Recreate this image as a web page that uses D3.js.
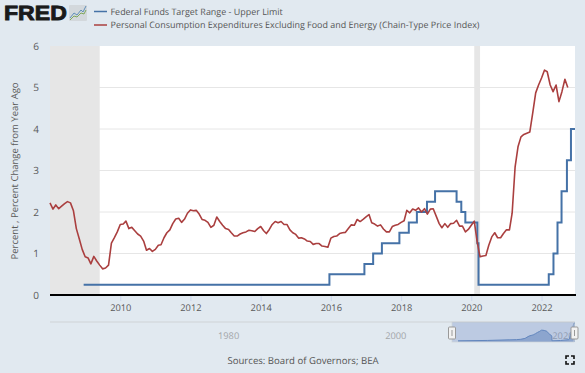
<!DOCTYPE html>
<html><head><meta charset="utf-8">
<style>html,body{margin:0;padding:0;background:#e1e9f0;overflow:hidden}svg{display:block;text-rendering:geometricPrecision}text{font-family:"Open Sans",sans-serif}</style>
<script src="https://cdn.jsdelivr.net/npm/d3@7"></script></head><body>
<svg id="c" width="585" height="373"></svg>
<script>
const pceStart = "2008-01-01";
const pceValues = [
2.22,2.07,2.17,2.08,2.14,2.20,2.25,2.22,2.03,1.60,1.35,1.10,
0.92,0.89,0.75,0.93,0.82,0.72,0.63,0.65,0.72,1.25,1.38,1.52,
1.70,1.71,1.78,1.60,1.63,1.55,1.47,1.42,1.30,1.08,1.12,1.05,
1.10,1.20,1.21,1.38,1.50,1.57,1.72,1.83,1.85,1.75,1.83,1.97,
2.05,2.03,2.04,1.95,1.82,1.80,1.75,1.63,1.68,1.88,1.77,1.68,
1.60,1.58,1.50,1.42,1.42,1.47,1.50,1.52,1.56,1.55,1.53,1.60,
1.65,1.55,1.48,1.58,1.70,1.77,1.74,1.77,1.70,1.70,1.57,1.50,
1.46,1.37,1.38,1.35,1.30,1.29,1.22,1.24,1.24,1.18,1.17,1.15,
1.37,1.41,1.42,1.48,1.50,1.51,1.60,1.69,1.68,1.82,1.77,1.82,
1.88,1.94,1.74,1.71,1.66,1.69,1.59,1.52,1.52,1.65,1.68,1.70,
1.75,1.79,2.04,1.98,2.07,2.04,2.10,2.00,2.08,1.95,2.07,2.08,
1.90,1.72,1.62,1.72,1.63,1.72,1.73,1.80,1.66,1.66,1.52,1.58,
1.68,1.78,1.30,0.92,0.94,0.95,1.20,1.40,1.50,1.38,1.38,1.48,
1.57,1.57,1.97,3.09,3.57,3.81,3.87,3.90,3.93,4.38,4.87,5.06,
5.23,5.42,5.38,5.06,4.90,5.06,4.66,4.90,5.20,5.00];
const fedDates = ["2008-12-16","2015-12-17","2016-12-15","2017-03-16","2017-06-15","2017-12-14","2018-03-22","2018-06-14","2018-09-27","2018-12-20","2019-08-01","2019-09-19","2019-10-31","2020-03-04","2020-03-16","2022-03-17","2022-05-05","2022-06-16","2022-07-28","2022-09-22","2022-11-03","2022-12-15"];
const fedValues = [0.25,0.5,0.75,1,1.25,1.5,1.75,2,2.25,2.5,2.25,2,1.75,1.25,0.25,0.5,1,1.75,2.5,3.25,4,4];
const recessions = [["2008-01-01","2009-06-01"],["2020-02-01","2020-04-01"]];
const yTicks = [0,1,2,3,4,5,6];
const xTickYears = [2010,2012,2014,2016,2018,2020,2022];
const navYears = [1980,2000,2020];
const seriesNames = ["Federal Funds Target Range - Upper Limit","Personal Consumption Expenditures Excluding Food and Energy (Chain-Type Price Index)"];
const seriesColors = ["#4572a7","#aa3f3f"];

const parse = d3.utcParse("%Y-%m-%d");
const svg = d3.select("#c");
const L=50,R=575,T=46,B=295;
const x = d3.scaleUtc().domain([parse("2008-01-01"),parse("2022-12-15")]).range([L,R]);
const y = d3.scaleLinear().domain([0,6]).range([B,T]);
const pce = pceValues.map((v,i)=>({d:d3.utcMonth.offset(parse(pceStart),i),v}));
const fed = fedDates.map((s,i)=>({d:parse(s),v:fedValues[i]}));
const grey="#5a5a5a";

svg.append("rect").attr("width",585).attr("height",373).attr("fill","#e1e9f0");
svg.append("rect").attr("x",L).attr("y",T).attr("width",R-L).attr("height",B-T).attr("fill","#fff");
svg.selectAll(".band").data(recessions).join("rect")
  .attr("x",d=>x(parse(d[0]))).attr("width",d=>x(parse(d[1]))-x(parse(d[0])))
  .attr("y",T).attr("height",B-T).attr("fill","#e6e6e6");
svg.selectAll(".grid").data(yTicks.filter(t=>t>0&&t<6)).join("line")
  .attr("x1",L).attr("x2",R).attr("y1",d=>y(d)).attr("y2",d=>y(d))
  .attr("stroke","#e6e6e6").attr("stroke-width",1);

const yAxis = svg.append("g").attr("transform",`translate(${L},0)`)
  .call(d3.axisLeft(y).tickValues(yTicks).tickSize(0).tickPadding(11).tickFormat(d3.format("d")));
yAxis.select(".domain").remove();
yAxis.selectAll("text").attr("fill",grey).attr("font-size",10).style("font-family",'"Open Sans",sans-serif');

const xAxis = svg.append("g").attr("transform",`translate(0,${B})`)
  .call(d3.axisBottom(x).tickValues(xTickYears.map(t=>new Date(Date.UTC(t,0,1)))).tickSize(6).tickPadding(3).tickFormat(d3.utcFormat("%Y")));
xAxis.select(".domain").remove();
xAxis.selectAll("line").attr("stroke","#ccd6eb");
xAxis.selectAll("text").attr("fill",grey).attr("font-size",9.3).style("font-family",'"Open Sans",sans-serif');

const lp = d3.line().x(d=>x(d.d)).y(d=>y(d.v));
const ls = d3.line().x(d=>x(d.d)).y(d=>y(d.v)).curve(d3.curveStepAfter);
svg.append("path").attr("d",ls(fed)).attr("fill","none").attr("stroke",seriesColors[0]).attr("stroke-width",2);
svg.append("path").attr("d",lp(pce)).attr("fill","none").attr("stroke",seriesColors[1]).attr("stroke-width",1.6).attr("stroke-linejoin","round");
svg.append("line").attr("x1",L).attr("x2",R+1).attr("y1",B).attr("y2",B).attr("stroke","#000").attr("stroke-width",2);

svg.append("text").attr("transform",`translate(18,171) rotate(-90)`).attr("text-anchor","middle")
  .attr("font-size",9.5).attr("fill",grey).text("Percent , Percent Change from Year Ago");

// legend
seriesNames.forEach((n,i)=>{
  const ly=11.5+i*13.5;
  svg.append("line").attr("x1",94).attr("x2",107).attr("y1",ly).attr("y2",ly).attr("stroke",seriesColors[i]).attr("stroke-width",1.5);
  svg.append("text").attr("x",110.5).attr("y",ly+3.2).attr("font-size",8.95).attr("fill","#555").text(n);
});

// logo
svg.append("text").attr("transform","translate(4,20) scale(1.12,1)").attr("font-size",20.6).attr("font-weight",700)
  .style("font-family",'"Liberation Sans",sans-serif')
  .attr("fill","#1a1a1a").attr("stroke","#1a1a1a").attr("stroke-width",.9).text("FRED");
svg.append("rect").attr("x",69).attr("y",5).attr("width",18).attr("height",16).attr("rx",1).attr("fill","#d3d8dc");
svg.append("path").attr("d","M70 18 L74 13 L77 15 L81 10 L83 12 L86 6").attr("fill","none").attr("stroke","#5f8fb8").attr("stroke-width",1);
svg.append("path").attr("d","M70 20 L74 16 L77 17 L81 13 L84 14 L86 10").attr("fill","none").attr("stroke","#7fa85c").attr("stroke-width",1);

// navigator
const nx = d3.scaleUtc().domain([parse("2008-01-01"),parse("2022-12-15")]).range([450,575]);
const ny = d3.scaleLinear().domain([0,4]).range([342,323]);
svg.append("line").attr("x1",L).attr("x2",R).attr("y1",322).attr("y2",322).attr("stroke","#cfd3d6");
svg.selectAll(".ny").data(navYears).join("text")
  .attr("x",d=>nx(new Date(Date.UTC(d,0,1)))+2).attr("y",339).attr("font-size",9.3).attr("fill","#a3a6aa").text(d=>d);
svg.append("path").attr("d",d3.area().x(d=>nx(d.d)).y0(342).y1(d=>ny(d.v)).curve(d3.curveMonotoneX)(fed)).attr("fill","#6f8fc0").attr("fill-opacity",.6);
svg.append("path").attr("d",d3.line().x(d=>nx(d.d)).y(d=>ny(d.v)).curve(d3.curveMonotoneX)(fed)).attr("fill","none").attr("stroke","#5f86bb").attr("stroke-width",1);
svg.append("rect").attr("x",452).attr("y",322).attr("width",122).attr("height",20).attr("fill","#6685c2").attr("fill-opacity",.3).attr("stroke","#cfd3d6").attr("stroke-width",.7);
[452,574.5].forEach(h=>{
  svg.append("rect").attr("x",h-3.5).attr("y",327).attr("width",7).attr("height",12).attr("rx",1).attr("fill","#f2f2f2").attr("stroke","#999");
  svg.append("line").attr("x1",h).attr("x2",h).attr("y1",330).attr("y2",336).attr("stroke","#999");
});

svg.append("text").attr("x",303).attr("y",364).attr("text-anchor","middle").attr("font-size",9.6).attr("fill","#555").text("Sources: Board of Governors; BEA");
// fullscreen icon
svg.append("path").attr("d","M566 359V356H569 M571 356H574V359 M574 361V364H571 M569 364H566V361").attr("fill","none").attr("stroke","#111").attr("stroke-width",1.6);
</script></body></html>
